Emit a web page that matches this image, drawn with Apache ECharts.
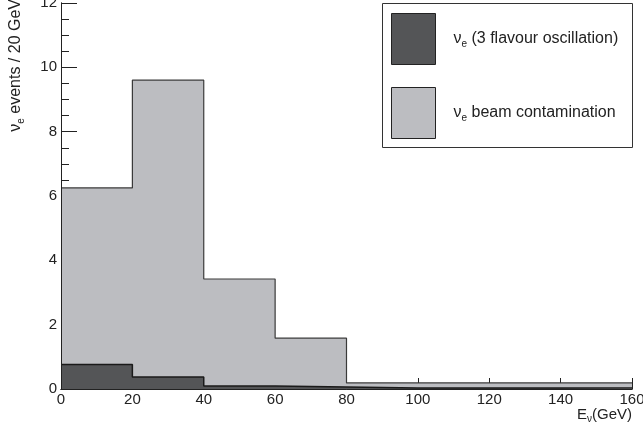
<!DOCTYPE html>
<html>
<head>
<meta charset="utf-8">
<script src="https://cdn.jsdelivr.net/npm/echarts@6/dist/echarts.min.js"></script>
<style>
  html, body { margin: 0; padding: 0; background: #fff; }
  #chart { width: 643px; height: 432px; }
</style>
</head>
<body>
<div id="chart"></div>
<script>
// bin edges in GeV (20 GeV bins)
const binEdges = [0, 20, 40, 60, 80, 100, 120, 140, 160]
// nu_e beam contamination (top of grey histogram)
const beamContamination = [6.25, 9.6, 3.42, 1.58, 0.19, 0.19, 0.19, 0.19]
// nu_e from 3 flavour oscillation
const oscillation = [0.76, 0.37, 0.09, 0.06, 0.03, 0.03, 0.03, 0.03]
const yTicks = [0, 2, 4, 6, 8, 10, 12]

const oscName = 'osc'
const beamName = 'beam'

// step histogram points: one point per left edge, plus closing point at the last edge
const toSteps = (vals) => binEdges.map((e, i) => [e, vals[Math.min(i, vals.length - 1)]])

const fontFamily = '"Liberation Sans", Helvetica, Arial, sans-serif'
const textColor = '#222'

const chart = echarts.init(document.getElementById('chart'))

const frameAxis = (position, min, max) => ({
  type: 'value', position, min, max, z: 10,
  axisLine: { show: true, lineStyle: { color: '#222', width: 1 } },
  axisTick: { show: false },
  axisLabel: { show: false },
  splitLine: { show: false },
})

const legendRich = {
  nu: { fontSize: 16, lineHeight: 20, padding: [0, 0, 0, 13], color: textColor, fontFamily },
  sub: { fontSize: 10, lineHeight: 10, verticalAlign: 'bottom', color: textColor, fontFamily },
  t: { fontSize: 16, lineHeight: 20, color: textColor, fontFamily },
}

const options = {
  animation: false,
  backgroundColor: '#fff',
  grid: { left: 61, right: 11, top: 3, bottom: 43, outerBoundsMode: 'none', containLabel: false },
  xAxis: [
    {
      type: 'value', min: binEdges[0], max: binEdges[binEdges.length - 1], interval: 20,
      axisLine: { show: false },
      axisTick: { show: true, inside: true, length: 11, lineStyle: { color: '#222' } },
      axisLabel: { fontSize: 15, color: textColor, fontFamily, margin: 3 },
      splitLine: { show: false },
    },
    frameAxis('bottom', 0, 160),
    frameAxis('top', 0, 160),
  ],
  yAxis: [
    {
      type: 'value', min: yTicks[0], max: yTicks[yTicks.length - 1], interval: 2,
      axisLine: { show: false },
      axisTick: { show: true, inside: true, length: 16, lineStyle: { color: '#222' } },
      minorTick: { show: true, splitNumber: 4, length: 8, lineStyle: { color: '#222' } },
      axisLabel: { fontSize: 15, color: textColor, fontFamily, margin: 4 },
      splitLine: { show: false },
    },
    frameAxis('left', 0, 12),
    frameAxis('right', 0, 12),
  ],
  legend: {
    orient: 'vertical',
    left: 382, top: 3,
    padding: [10, 0, 0, 9],
    itemGap: 22,
    itemWidth: 44,
    itemHeight: 51,
    icon: 'rect',
    z: 20,
    selectedMode: false,
    itemStyle: { borderColor: '#222', borderWidth: 1 },
    data: [oscName, beamName],
    formatter: (name) => name === oscName
      ? '{nu|ν}{sub|e}{t| (3 flavour oscillation)}'
      : '{nu|ν}{sub|e}{t| beam contamination}',
    textStyle: { rich: legendRich },
  },
  graphic: [
    {
      type: 'rect', z: 5,
      shape: { x: 382.5, y: 3.5, width: 250, height: 144 },
      style: { fill: '#fff', stroke: '#333', lineWidth: 1 },
    },
    {
      type: 'text', x: 16, y: -1, rotation: Math.PI / 2,
      style: {
        text: '{a|ν}{s|e}{a| events / 20 GeV}',
        align: 'right', verticalAlign: 'middle',
        rich: {
          a: { fontSize: 16, lineHeight: 20, fill: textColor, fontFamily },
          s: { fontSize: 10, lineHeight: 10, verticalAlign: 'bottom', fill: textColor, fontFamily },
        },
      },
    },
    {
      type: 'text', x: 632, y: 415,
      style: {
        text: '{a|E}{s|ν}{a|(GeV)}',
        align: 'right', verticalAlign: 'middle',
        rich: {
          a: { fontSize: 15, lineHeight: 19, fill: textColor, fontFamily },
          s: { fontSize: 10, lineHeight: 10, verticalAlign: 'bottom', fill: textColor, fontFamily },
        },
      },
    },
  ],
  series: [
    {
      name: beamName,
      type: 'line',
      step: 'end',
      showSymbol: false,
      silent: true,
      color: '#bcbdc1',
      lineStyle: { color: '#3a3a3a', width: 1.2 },
      areaStyle: { color: '#bcbdc1', opacity: 1 },
      data: toSteps(beamContamination),
      z: 2,
    },
    {
      name: oscName,
      type: 'line',
      step: 'end',
      showSymbol: false,
      silent: true,
      color: '#545557',
      lineStyle: { color: '#1a1a1a', width: 1.5 },
      areaStyle: { color: '#545557', opacity: 1 },
      data: toSteps(oscillation),
      z: 3,
    },
  ],
}

chart.setOption(options)
</script>
</body>
</html>
